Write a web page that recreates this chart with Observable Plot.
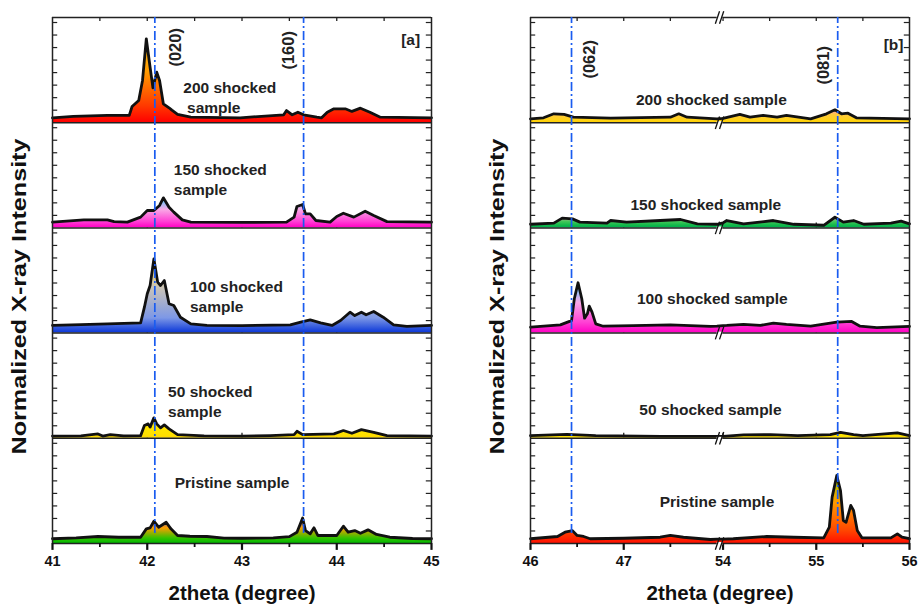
<!DOCTYPE html>
<html>
<head>
<meta charset="utf-8">
<script src="https://cdn.jsdelivr.net/npm/d3@7"></script>
<script src="https://cdn.jsdelivr.net/npm/@observablehq/plot@0.6"></script>
<style>
  html, body { margin: 0; padding: 0; background: #fff; }
  #wrap { position: relative; width: 919px; height: 604px; overflow: hidden; }
  #left { position: absolute; left: 0; top: 0; }
  #right { position: absolute; left: 460px; top: 0; }
</style>
</head>
<body>
<div id="wrap"><div id="left"></div><div id="right"></div></div>
<script>
// ---------------- DATA (2theta in degrees, normalized intensity per sub-panel) ----------------
const sampleNames = ["Pristine sample", "50 shocked", "100 shocked", "150 shocked", "200 shocked"];

const leftPristine = [[41.0,0.38],[41.25,0.45],[41.48,0.56],[41.7,0.5],[41.93,0.5],[41.99,1.17],[42.03,1.25],[42.07,1.78],[42.12,1.3],[42.2,1.7],[42.25,1.17],[42.32,0.64],[42.45,0.58],[42.63,0.56],[42.81,0.43],[43.0,0.42],[43.33,0.45],[43.5,0.55],[43.58,0.9],[43.64,2.04],[43.67,1.03],[43.72,0.77],[43.76,1.25],[43.8,0.64],[44.0,0.64],[44.07,1.38],[44.12,0.9],[44.19,1.03],[44.25,0.82],[44.33,1.09],[44.42,0.72],[44.56,0.5],[44.8,0.4],[45.0,0.38]];
const left50 = [[41.0,0.18],[41.3,0.2],[41.48,0.35],[41.53,0.18],[41.61,0.29],[41.75,0.2],[41.93,0.21],[41.97,1.02],[42.01,1.15],[42.03,0.89],[42.07,1.63],[42.1,1.15],[42.14,0.83],[42.18,1.07],[42.23,0.75],[42.32,0.29],[42.6,0.2],[43.0,0.18],[43.3,0.22],[43.55,0.29],[43.58,0.56],[43.64,0.29],[43.97,0.35],[44.07,0.62],[44.16,0.4],[44.26,0.69],[44.39,0.48],[44.53,0.21],[45.0,0.18]];
const left100 = [[41.0,0.61],[41.3,0.68],[41.58,0.74],[41.93,0.82],[41.97,2.07],[42.0,3.14],[42.03,3.8],[42.07,5.93],[42.11,4.07],[42.14,3.8],[42.18,4.2],[42.23,2.34],[42.28,2.2],[42.35,1.27],[42.46,0.74],[42.63,0.61],[43.0,0.6],[43.51,0.66],[43.62,0.87],[43.72,1.05],[43.83,0.82],[43.95,0.61],[44.04,1.0],[44.14,1.67],[44.19,1.4],[44.26,1.67],[44.31,1.46],[44.39,1.73],[44.49,1.27],[44.6,0.66],[44.74,0.53],[45.0,0.61]];
const left150 = [[41.0,0.46],[41.33,0.64],[41.58,0.64],[41.65,0.5],[41.79,0.46],[41.93,0.86],[42.0,1.39],[42.07,1.39],[42.13,1.79],[42.17,2.4],[42.23,1.65],[42.28,1.26],[42.37,0.64],[42.46,0.46],[43.0,0.44],[43.47,0.46],[43.55,0.86],[43.58,1.71],[43.64,1.87],[43.67,1.12],[43.72,1.12],[43.78,0.59],[43.93,0.46],[44.0,0.91],[44.07,1.17],[44.18,0.86],[44.3,1.33],[44.39,0.99],[44.53,0.5],[45.0,0.46]];
const left200 = [[41.0,0.39],[41.22,0.5],[41.58,0.58],[41.81,0.58],[41.84,1.29],[41.91,1.77],[41.95,3.37],[41.99,6.7],[42.03,4.43],[42.06,2.79],[42.1,4.04],[42.13,3.37],[42.17,1.51],[42.23,1.19],[42.26,1.0],[42.32,0.66],[42.46,0.44],[42.98,0.39],[43.44,0.63],[43.47,0.97],[43.53,0.63],[43.59,0.84],[43.65,0.63],[43.79,0.44],[43.84,0.39],[43.9,0.84],[43.97,1.11],[44.09,1.11],[44.16,0.9],[44.25,1.16],[44.35,0.84],[44.46,0.44],[45.0,0.39]];

const rightPristine = [[46.0,0.38],[46.29,0.56],[46.37,0.9],[46.45,1.03],[46.5,0.64],[46.57,0.56],[46.64,0.38],[47.0,0.42],[47.39,0.5],[47.5,0.64],[47.64,0.5],[47.93,0.32],[48.0,0.35],[54.0,0.35],[54.11,0.38],[54.47,0.56],[54.76,0.5],[55.08,0.45],[55.14,1.3],[55.17,3.7],[55.22,5.43],[55.26,4.23],[55.29,1.84],[55.32,1.7],[55.37,3.04],[55.4,2.64],[55.44,1.03],[55.49,0.45],[55.8,0.45],[55.87,0.77],[55.92,0.5],[56.0,0.38]];
const right50 = [[46.0,0.21],[46.39,0.32],[46.7,0.21],[47.4,0.16],[48.0,0.16],[54.0,0.16],[54.22,0.27],[54.51,0.29],[54.8,0.21],[55.15,0.29],[55.26,0.48],[55.4,0.29],[55.5,0.21],[55.87,0.43],[56.0,0.21]];
const right100 = [[46.0,0.47],[46.32,0.66],[46.44,1.0],[46.47,2.74],[46.51,4.02],[46.55,2.74],[46.58,1.19],[46.61,1.54],[46.63,2.15],[46.66,1.67],[46.7,0.74],[46.78,0.55],[47.1,0.6],[47.5,0.66],[47.93,0.53],[48.0,0.55],[54.0,0.6],[54.04,0.61],[54.22,0.69],[54.4,0.61],[54.54,0.8],[54.68,0.69],[54.94,0.55],[55.22,0.88],[55.38,0.93],[55.47,0.55],[55.65,0.43],[56.0,0.53]];
const right150 = [[46.0,0.29],[46.25,0.38],[46.34,0.78],[46.45,0.72],[46.53,0.46],[46.82,0.38],[46.86,0.59],[47.03,0.46],[47.39,0.59],[47.61,0.67],[47.79,0.32],[48.0,0.29],[54.0,0.4],[54.04,0.59],[54.22,0.32],[54.54,0.59],[54.76,0.29],[55.08,0.21],[55.2,0.85],[55.29,0.46],[55.4,0.59],[55.51,0.29],[55.8,0.38],[55.91,0.54],[56.0,0.32]];
const right200 = [[46.0,0.31],[46.14,0.39],[46.25,0.71],[46.36,0.66],[46.46,0.44],[46.86,0.36],[47.5,0.44],[47.59,0.71],[47.68,0.44],[48.0,0.31],[54.0,0.35],[54.18,0.66],[54.29,0.44],[54.43,0.58],[54.58,0.44],[54.68,0.58],[54.94,0.31],[55.11,0.71],[55.2,1.03],[55.27,0.71],[55.34,0.76],[55.43,0.39],[56.0,0.31]];

// gradient colours, top -> bottom, one list per trace (bottom trace first)
const leftColors = [
  ["#1f47ff", "#ff9d00", "#35c200", "#00b800"],
  ["#2f5cff", "#ffe600", "#ffe100", "#ffd900"],
  ["#ffd84a", "#c9c3b8", "#7d98e6", "#0a36d8"],
  ["#3fd2ff", "#f9a9e6", "#ff3fd4", "#ff00c4"],
  ["#ffc21a", "#ff9a00", "#ff3a00", "#ff0000"]
];
const rightColors = [
  ["#8fcf00", "#ff9c00", "#ff4a00", "#ff1000"],
  ["#2f5cff", "#ffe600", "#ffe100", "#ffd900"],
  ["#3fd2ff", "#f9a9e6", "#ff3fd4", "#ff00c4"],
  ["#ff8cc8", "#48c85a", "#10b84a", "#00b050"],
  ["#ff8cc8", "#ffc840", "#ffd21a", "#ffd000"]
];

const leftTicks = [41, 42, 43, 44, 45];
const leftMinor = [41.5, 42.5, 43.5, 44.5];
const rightTicks = [46, 47, 54, 55, 56];
const rightMinor = [46.5, 47.5, 54.5, 55.5];
const leftPeaks = [42.08, 43.65];
const leftPeakNames = ["(020)", "(160)"];
const rightPeaks = [46.44, 55.23];
const rightPeakNames = ["(062)", "(081)"];

// ---------------- LAYOUT / STYLE ----------------
const FONT = '"Liberation Sans", Arial, Helvetica, sans-serif';
const SUB = 8.4;        // height of one stacked sub-panel in tick units
const GAP = 0.065;      // width of the axis break on the right panel
const TOP = 5 * SUB;
const YTITLE = "Normalized X-ray Intensity";

const leftMap = x => x;
const rightMap = x => (x < 50 ? x - 46 : x - 54 + 2 + GAP);

function makePanel(cfg) {
  const {id, traces, colors, map, u0, u1, ticks, minor, peaks, peakNames, labels, tag, width, marginLeft, marginRight, brk} = cfg;
  const rows = traces.map((pts, k) => pts.map(([x, v]) => ({u: map(x), y: k * SUB + v, b: k * SUB})));
  const bounds = d3.range(6).map(k => k * SUB);
  const ytick = [];
  for (let k = 0; k < 5; k++) for (let j = 1; j <= 8; j++) ytick.push(k * SUB + j);
  const len = 5.2 * (u1 - u0) / 379;
  const inner = [];
  for (let k = 1; k < 5; k++) for (const t of ticks) if (map(t) > u0 && map(t) < u1) inner.push({u: map(t), b: k * SUB});
  const topTicks = [...ticks, ...minor].filter(t => map(t) > u0 + 1e-6 && map(t) < u1 - 1e-6);

  const marks = [];
  marks.push(Plot.ruleX(inner, {x: "u", y1: "b", y2: d => d.b + 0.4, stroke: "#222", strokeWidth: 1.3}));
  rows.forEach((r, k) => marks.push(Plot.areaY(r, {x: "u", y1: "b", y2: "y", fill: `url(#${id}g${k})`})));
  rows.forEach(r => marks.push(Plot.line(r, {x: "u", y: "y", stroke: "#111", strokeWidth: 2.8, strokeLinejoin: "round"})));
  // frame of every sub-panel
  marks.push(Plot.ruleY(bounds, {y: d => d, x1: u0, x2: u1, stroke: "#222", strokeWidth: 1.5}));
  marks.push(Plot.ruleX([u0, u1], {x: d => d, y1: 0, y2: TOP, stroke: "#222", strokeWidth: 1.5}));
  // y ticks (inward, both sides)
  marks.push(Plot.ruleY(ytick, {y: d => d, x1: u0, x2: u0 + len, stroke: "#222", strokeWidth: 1.2}));
  marks.push(Plot.ruleY(ytick, {y: d => d, x1: u1 - len, x2: u1, stroke: "#222", strokeWidth: 1.2}));
  // x ticks
  marks.push(Plot.ruleX(ticks, {x: map, y1: 0, y2: -0.55, stroke: "#111", strokeWidth: 2.2}));
  marks.push(Plot.ruleX(minor, {x: map, y1: 0, y2: -0.32, stroke: "#111", strokeWidth: 1.8}));
  marks.push(Plot.ruleX(topTicks, {x: map, y1: TOP, y2: TOP - 0.32, stroke: "#222", strokeWidth: 1.3}));
  // axis break marks
  if (brk) {
    const c = 2 + GAP / 2;
    marks.push(Plot.ruleY(bounds, {y: d => d, x1: c - 0.03, x2: c + 0.03, stroke: "white", strokeWidth: 3}));
    marks.push(Plot.link(bounds, {x1: c - 0.05, y1: d => d - 0.5, x2: c - 0.005, y2: d => d + 0.5, stroke: "#111", strokeWidth: 1.3}));
    marks.push(Plot.link(bounds, {x1: c - 0.005, y1: d => d - 0.5, x2: c + 0.04, y2: d => d + 0.5, stroke: "#111", strokeWidth: 1.3}));
  }
  // peak guide lines
  marks.push(Plot.ruleX(peaks, {x: map, y1: 0.8, y2: TOP, stroke: "#1a5cf0", strokeWidth: 1.7, strokeDasharray: "9,3,2,3"}));
  // peak indices
  marks.push(Plot.text(peakNames, {x: (d, i) => map(cfg.peakLabelX[i]), y: (d, i) => cfg.peakLabelY[i], text: d => d, rotate: -90, fontSize: 16.5, fontWeight: "bold", fill: "#222"}));
  // panel tag
  marks.push(Plot.text([tag.text], {x: tag.u, y: tag.y, text: d => d, fontSize: 15.5, fontWeight: "bold", fill: "#222"}));
  // sample labels
  marks.push(Plot.text(labels, {x: d => d.u, y: d => d.y, text: d => d.t, textAnchor: cfg.anchor, fontSize: 15.5, fontWeight: "bold", fill: "#222"}));
  // tick labels
  marks.push(Plot.text(ticks, {x: map, y: 0, text: d => String(d), dy: 18, fontSize: 14.5, fontWeight: "bold", fill: "#111"}));
  // axis titles
  marks.push(Plot.text(["2theta (degree)"], {frameAnchor: "bottom", text: d => d, dy: 50, lineAnchor: "middle", textAnchor: "middle", fontSize: 20.5, fontWeight: "bold", fill: "#111"}));
  marks.push(Plot.text([YTITLE], {frameAnchor: "left", text: d => d, dx: -33, dy: 16, rotate: -90, textAnchor: "middle", lineAnchor: "middle", fontSize: 20.5, fontWeight: "bold", fill: "#111"}));

  const svg = Plot.plot({
    width, height: 604,
    marginTop: 17, marginBottom: 61, marginLeft, marginRight,
    x: {domain: [u0, u1], axis: null},
    y: {domain: [0, TOP], axis: null},
    style: {fontFamily: FONT, background: "white", overflow: "visible"},
    marks
  });
  const defs = d3.select(svg).insert("defs", ":first-child");
  colors.forEach((cols, k) => {
    const g = defs.append("linearGradient").attr("id", `${id}g${k}`)
      .attr("x1", 0).attr("y1", 0).attr("x2", 0).attr("y2", 1);
    const offs = [0, 0.4, 0.8, 1];
    cols.forEach((c, i) => g.append("stop").attr("offset", offs[i]).attr("stop-color", c));
  });
  // the original y title is typeset slightly stretched along its length
  d3.select(svg).selectAll("text").filter(function () { return this.textContent === YTITLE; })
    .attr("textLength", 316).attr("lengthAdjust", "spacingAndGlyphs");
  return svg;
}

const leftLabels = [
  {t: "200 shocked", u: 42.38, y: 36.34}, {t: "sample", u: 42.42, y: 34.74},
  {t: "150 shocked", u: 42.28, y: 29.79}, {t: "sample", u: 42.28, y: 28.19},
  {t: "100 shocked", u: 42.45, y: 20.45}, {t: "sample", u: 42.45, y: 18.85},
  {t: "50 shocked", u: 42.22, y: 12.06}, {t: "sample", u: 42.22, y: 10.46},
  {t: "Pristine sample", u: 42.29, y: 4.79}
];
const rightLabels = [
  {t: "200 shocked sample", u: 1.94, y: 35.38},
  {t: "150 shocked sample", u: 1.88, y: 27.0},
  {t: "100 shocked sample", u: 1.95, y: 19.49},
  {t: "50 shocked sample", u: 1.93, y: 10.62},
  {t: "Pristine sample", u: 2.0, y: 3.35}
];

document.getElementById("left").appendChild(makePanel({
  id: "L", traces: [leftPristine, left50, left100, left150, left200], colors: leftColors,
  map: leftMap, u0: 41, u1: 45, ticks: leftTicks, minor: leftMinor,
  peaks: leftPeaks, peakNames: leftPeakNames, peakLabelX: [42.3, 43.49], peakLabelY: [39.62, 39.38],
  labels: leftLabels, anchor: "start", tag: {text: "[a]", u: 44.78, y: 40.18},
  width: 460, marginLeft: 52, marginRight: 29, brk: false
}));
document.getElementById("right").appendChild(makePanel({
  id: "R", traces: [rightPristine, right50, right100, right150, right200], colors: rightColors,
  map: rightMap, u0: 0, u1: 4 + GAP, ticks: rightTicks, minor: rightMinor,
  peaks: rightPeaks, peakNames: rightPeakNames, peakLabelX: [46.64, 55.08], peakLabelY: [38.66, 38.18],
  labels: rightLabels, anchor: "middle", tag: {text: "[b]", u: 3.894, y: 39.78},
  width: 459, marginLeft: 70, marginRight: 10, brk: true
}));
</script>
</body>
</html>
